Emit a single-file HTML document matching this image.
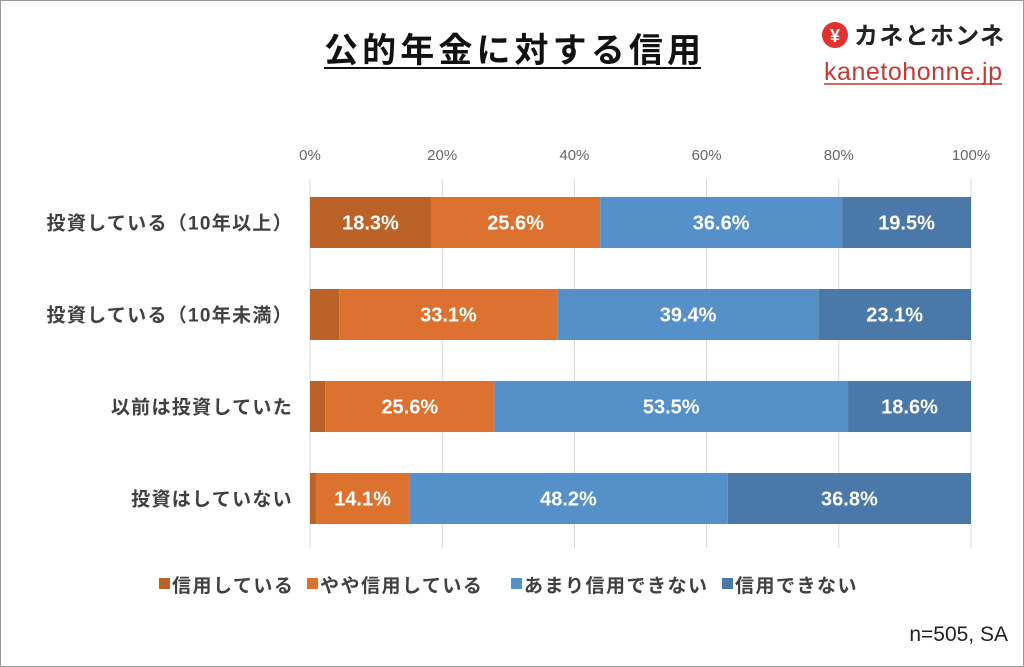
<!DOCTYPE html>
<html><head><meta charset="utf-8">
<style>
body{margin:0;background:#fff;}
#wrap{position:relative;width:1022px;height:665px;border:1px solid #9a9a9a;background:#fff;font-family:"Liberation Sans","Noto Sans CJK JP",sans-serif;overflow:hidden;}
</style></head><body>
<div id="wrap">
<svg id="chart" width="1022" height="665"></svg>
</div>
<script>
const categories=["投資している（10年以上）","投資している（10年未満）","以前は投資していた","投資はしていない"];
const seriesNames=["信用している","やや信用している","あまり信用できない","信用できない"];
const trust=[18.3,4.4,2.3,0.9];
const somewhat=[25.6,33.1,25.6,14.1];
const notMuch=[36.6,39.4,53.5,48.2];
const none=[19.5,23.1,18.6,36.8];
const ticks=[0,20,40,60,80,100];
const colors=["#bb6228","#dd7230","#5590c8","#4a78a8"];
const showLabel=[[true,true,true,true],[false,true,true,true],[false,true,true,true],[false,true,true,true]];

const NS="http://www.w3.org/2000/svg";
const svg=document.getElementById('chart');
function mk(t,a,txt){const e=document.createElementNS(NS,t);for(const k in a)e.setAttribute(k,a[k]);if(txt!==undefined)e.textContent=txt;svg.appendChild(e);return e;}
const x0=309,x1=970;
const xs=v=>x0+(x1-x0)*v/100;
const rowY=i=>196+i*92, barH=51;
const F='"Liberation Sans","Noto Sans CJK JP",sans-serif';

let e=mk('text',{x:323,y:61,'font-size':34,'font-weight':'bold',fill:'#111','font-family':F,textLength:377,lengthAdjust:'spacing'},'公的年金に対する信用');


e=mk('line',{x1:323,y1:67,x2:700,y2:67,stroke:'#111','stroke-width':2});


e=mk('circle',{cx:834,cy:34,r:13,fill:'#e0322e'});


e=mk('text',{x:834,y:41,'text-anchor':'middle','font-size':18,'font-weight':'bold',fill:'#fff','font-family':F},'¥');


e=mk('text',{x:853,y:43,'font-size':24,'font-weight':'bold',fill:'#222','font-family':F,textLength:150,lengthAdjust:'spacing'},'カネとホンネ');


e=mk('text',{x:823,y:79,'font-size':25,fill:'#c23b35','font-family':F,textLength:178,lengthAdjust:'spacing'},'kanetohonne.jp');


e=mk('line',{x1:823,y1:83,x2:1001,y2:83,stroke:'#c23b35','stroke-width':1.5});



ticks.forEach(t=>{
  let g=mk('line',{x1:xs(t),y1:178,x2:xs(t),y2:547,stroke:'#d9d9d9','stroke-width':1});
  
  
  let l=mk('text',{x:xs(t),y:159,'text-anchor':'middle','font-size':15,fill:'#666','font-family':F},t+'%');
  
  
});

const all=[trust,somewhat,notMuch,none];
categories.forEach((c,i)=>{
  const y=rowY(i);
  let l=mk('text',{x:292,y:y+barH/2+7,'text-anchor':'end','font-size':19,'font-weight':'bold',fill:'#404040','font-family':F,'letter-spacing':1.3},c);
  
  
  let cum=0;
  all.forEach((s,j)=>{
    const v=s[i];
    let r=mk('rect',{x:xs(cum),y:y,width:xs(cum+v)-xs(cum),height:barH,fill:colors[j]});
    
    
    if(showLabel[i][j]){
      let t=mk('text',{x:xs(cum+v/2),y:y+barH/2+7,'text-anchor':'middle','font-size':20,'font-weight':'bold',fill:'#fff','font-family':F},v.toFixed(1)+'%');
      
      
    }
    cum+=v;
  });
});

const legX=[158,306,510,721];
seriesNames.forEach((n,j)=>{
  let r=mk('rect',{x:legX[j],y:577,width:11,height:11,fill:colors[j]});
  
  
  let t=mk('text',{x:legX[j]+13,y:591,'font-size':19,'font-weight':'bold',fill:'#404040','font-family':F,'letter-spacing':1.5},n);
  
  
});
e=mk('text',{x:1007,y:640,'text-anchor':'end','font-size':21,fill:'#222','font-family':F},'n=505, SA');


</script>
</body></html>
